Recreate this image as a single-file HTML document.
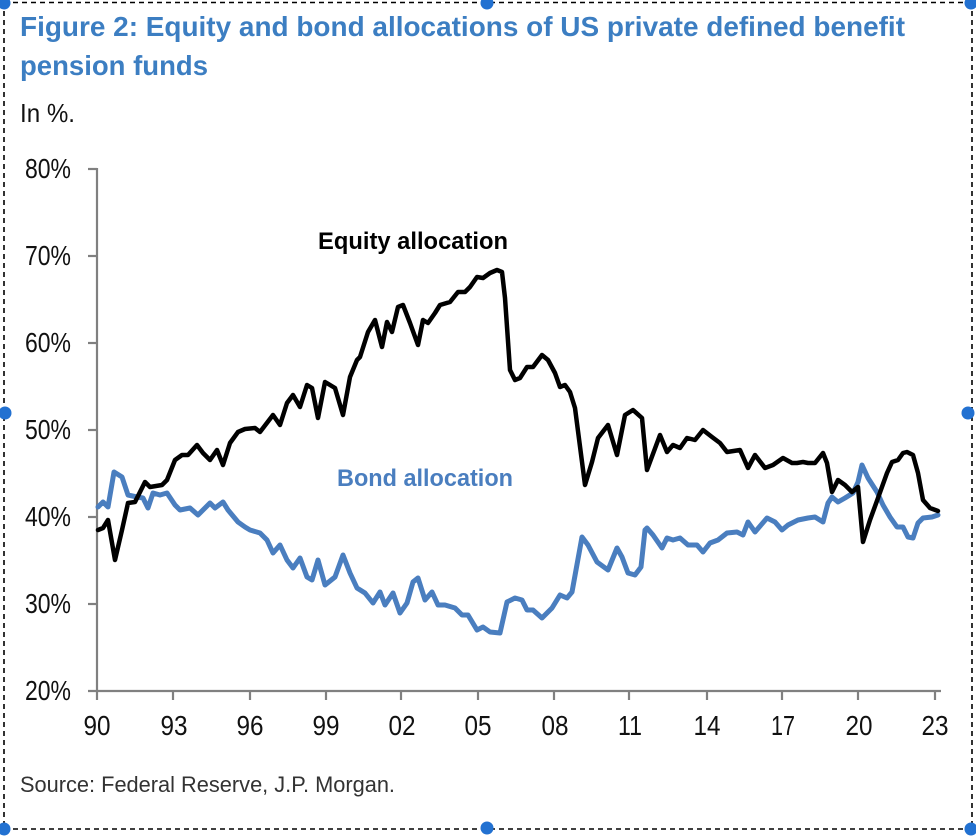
<!DOCTYPE html>
<html>
<head>
<meta charset="utf-8">
<style>
html,body{margin:0;padding:0;background:#fff;}
svg{display:block;}
text{font-family:"Liberation Sans", Arial, sans-serif;}
</style>
</head>
<body>
<svg width="976" height="838" viewBox="0 0 976 838" xmlns="http://www.w3.org/2000/svg">
<rect x="0" y="0" width="976" height="838" fill="#fff"/>

<!-- dashed selection border -->
<g stroke="#000" stroke-width="1.6" stroke-dasharray="5 4" fill="none">
  <line x1="4" y1="2.5" x2="972" y2="2.5"/>
  <line x1="4" y1="829" x2="972" y2="829"/>
  <line x1="4" y1="2" x2="4" y2="829"/>
  <line x1="972" y1="2" x2="972" y2="829"/>
</g>

<!-- title -->
<text x="20" y="36" font-size="28" font-weight="bold" fill="#3c7ec2" textLength="885" lengthAdjust="spacingAndGlyphs">Figure 2: Equity and bond allocations of US private defined benefit</text>
<text x="20" y="75" font-size="28" font-weight="bold" fill="#3c7ec2" textLength="188" lengthAdjust="spacingAndGlyphs">pension funds</text>
<text x="20" y="122" font-size="26" fill="#111" textLength="55" lengthAdjust="spacingAndGlyphs">In %.</text>

<!-- axes -->
<g stroke="#808080" stroke-width="2.2" fill="none">
  <line x1="97" y1="168" x2="97" y2="692"/>
  <line x1="88" y1="691" x2="941" y2="691"/>
  <line x1="88" y1="169" x2="97" y2="169"/>
  <line x1="88" y1="256" x2="97" y2="256"/>
  <line x1="88" y1="343" x2="97" y2="343"/>
  <line x1="88" y1="430" x2="97" y2="430"/>
  <line x1="88" y1="517" x2="97" y2="517"/>
  <line x1="88" y1="604" x2="97" y2="604"/>
  <line x1="97" y1="691" x2="97" y2="700"/>
  <line x1="173" y1="691" x2="173" y2="700"/>
  <line x1="250" y1="691" x2="250" y2="700"/>
  <line x1="326" y1="691" x2="326" y2="700"/>
  <line x1="401" y1="691" x2="401" y2="700"/>
  <line x1="478" y1="691" x2="478" y2="700"/>
  <line x1="554" y1="691" x2="554" y2="700"/>
  <line x1="629" y1="691" x2="629" y2="700"/>
  <line x1="707" y1="691" x2="707" y2="700"/>
  <line x1="782" y1="691" x2="782" y2="700"/>
  <line x1="858" y1="691" x2="858" y2="700"/>
  <line x1="935" y1="691" x2="935" y2="700"/>
</g>

<!-- y labels -->
<g font-size="28" fill="#111" text-anchor="end">
  <text x="71" y="178" textLength="46" lengthAdjust="spacingAndGlyphs">80%</text>
  <text x="71" y="265" textLength="46" lengthAdjust="spacingAndGlyphs">70%</text>
  <text x="71" y="352" textLength="46" lengthAdjust="spacingAndGlyphs">60%</text>
  <text x="71" y="439" textLength="46" lengthAdjust="spacingAndGlyphs">50%</text>
  <text x="71" y="526" textLength="46" lengthAdjust="spacingAndGlyphs">40%</text>
  <text x="71" y="613" textLength="46" lengthAdjust="spacingAndGlyphs">30%</text>
  <text x="71" y="700" textLength="46" lengthAdjust="spacingAndGlyphs">20%</text>
</g>

<!-- x labels -->
<g font-size="28" fill="#111" text-anchor="middle">
  <text x="97" y="735" textLength="27" lengthAdjust="spacingAndGlyphs">90</text>
  <text x="174" y="735" textLength="27" lengthAdjust="spacingAndGlyphs">93</text>
  <text x="250" y="735" textLength="27" lengthAdjust="spacingAndGlyphs">96</text>
  <text x="326" y="735" textLength="27" lengthAdjust="spacingAndGlyphs">99</text>
  <text x="402" y="735" textLength="27" lengthAdjust="spacingAndGlyphs">02</text>
  <text x="478" y="735" textLength="27" lengthAdjust="spacingAndGlyphs">05</text>
  <text x="555" y="735" textLength="27" lengthAdjust="spacingAndGlyphs">08</text>
  <text x="630" y="735" textLength="24" lengthAdjust="spacingAndGlyphs">11</text>
  <text x="707" y="735" textLength="27" lengthAdjust="spacingAndGlyphs">14</text>
  <text x="783" y="735" textLength="24" lengthAdjust="spacingAndGlyphs">17</text>
  <text x="859" y="735" textLength="27" lengthAdjust="spacingAndGlyphs">20</text>
  <text x="935" y="735" textLength="27" lengthAdjust="spacingAndGlyphs">23</text>
</g>

<!-- bond series -->
<polyline fill="none" stroke="#4a7ebf" stroke-width="5" stroke-linejoin="round" stroke-linecap="round" points="
98,507 103,502 108,507 114,472 122,477 128,495 137,497 143,498 148,508 153,493 160,495 167,493 175,505 180,510 190,508 198,515 210,503 215,508 223,502 228,510 238,522 245,527 250,530 260,533 267,540 273,553 280,545 287,560 293,568 300,558 307,577 312,580 318,560 325,585 335,577 343,555 350,573 357,588 365,593 373,603 380,592 385,605 393,593 400,613 407,603 413,582 418,578 425,600 432,592 438,605 445,605 455,608 462,615 468,615 477,630 483,627 490,632 500,633 507,602 515,598 522,600 527,610 533,610 542,618 552,608 560,595 567,598 572,592 582,537 588,545 597,562 608,570 617,548 622,557 628,573 635,575 641,567 645,530 647,528 653,535 662,548 667,538 673,540 680,538 688,545 697,545 703,552 710,543 718,540 727,533 737,532 743,535 748,522 755,532 767,518 775,522 782,530 788,525 798,520 808,518 815,517 823,522 828,503 832,497 838,502 845,498 853,493 858,482 862,465 868,478 877,492 883,505 890,517 897,527 903,527 908,537 913,538 918,523 923,518 932,517 938,515"/>

<!-- equity series -->
<polyline fill="none" stroke="#000" stroke-width="4.5" stroke-linejoin="round" stroke-linecap="round" points="
98,530 103,528 108,520 115,560 122,530 128,503 135,502 145,482 150,487 162,485 167,480 175,460 182,455 188,455 197,445 203,453 210,460 217,450 223,465 230,443 238,432 245,429 255,428 260,432 273,415 280,425 287,403 293,395 300,407 307,385 312,388 318,418 325,382 335,388 343,415 350,377 357,360 360,357 368,332 375,320 382,347 387,322 392,332 398,307 403,305 410,323 418,345 423,320 428,323 435,313 440,305 450,302 458,292 465,292 470,287 477,277 483,278 490,273 497,270 502,272 505,298 510,370 515,380 520,378 527,367 533,367 542,355 548,360 555,373 560,387 565,385 570,392 575,408 585,485 592,462 598,438 608,425 617,455 625,415 633,410 642,418 647,470 660,435 667,452 673,445 680,448 687,438 695,440 703,430 712,437 720,443 727,452 740,450 748,468 755,455 765,468 773,465 783,458 792,463 797,463 803,462 808,463 815,463 823,453 827,463 832,492 838,480 845,485 852,492 858,487 863,542 870,520 878,498 887,473 892,462 898,460 903,453 907,452 913,455 918,473 923,500 930,508 938,511"/>

<!-- series labels -->
<text x="318" y="249" font-size="24" font-weight="bold" fill="#000" textLength="190" lengthAdjust="spacingAndGlyphs">Equity allocation</text>
<text x="337" y="486" font-size="24" font-weight="bold" fill="#4a7ebf" textLength="176" lengthAdjust="spacingAndGlyphs">Bond allocation</text>

<!-- source -->
<text x="20" y="792" font-size="22" fill="#333" textLength="375" lengthAdjust="spacingAndGlyphs">Source: Federal Reserve, J.P. Morgan.</text>

<!-- selection handles -->
<g fill="#2271d1">
  <circle cx="4" cy="3" r="6.5"/>
  <circle cx="487" cy="3" r="6.5"/>
  <circle cx="971" cy="3" r="6.5"/>
  <circle cx="5" cy="413" r="6.5"/>
  <circle cx="968" cy="413" r="6.5"/>
  <circle cx="4" cy="829" r="6.5"/>
  <circle cx="487" cy="828" r="6.5"/>
  <circle cx="971" cy="829" r="6.5"/>
</g>
</svg>
</body>
</html>
